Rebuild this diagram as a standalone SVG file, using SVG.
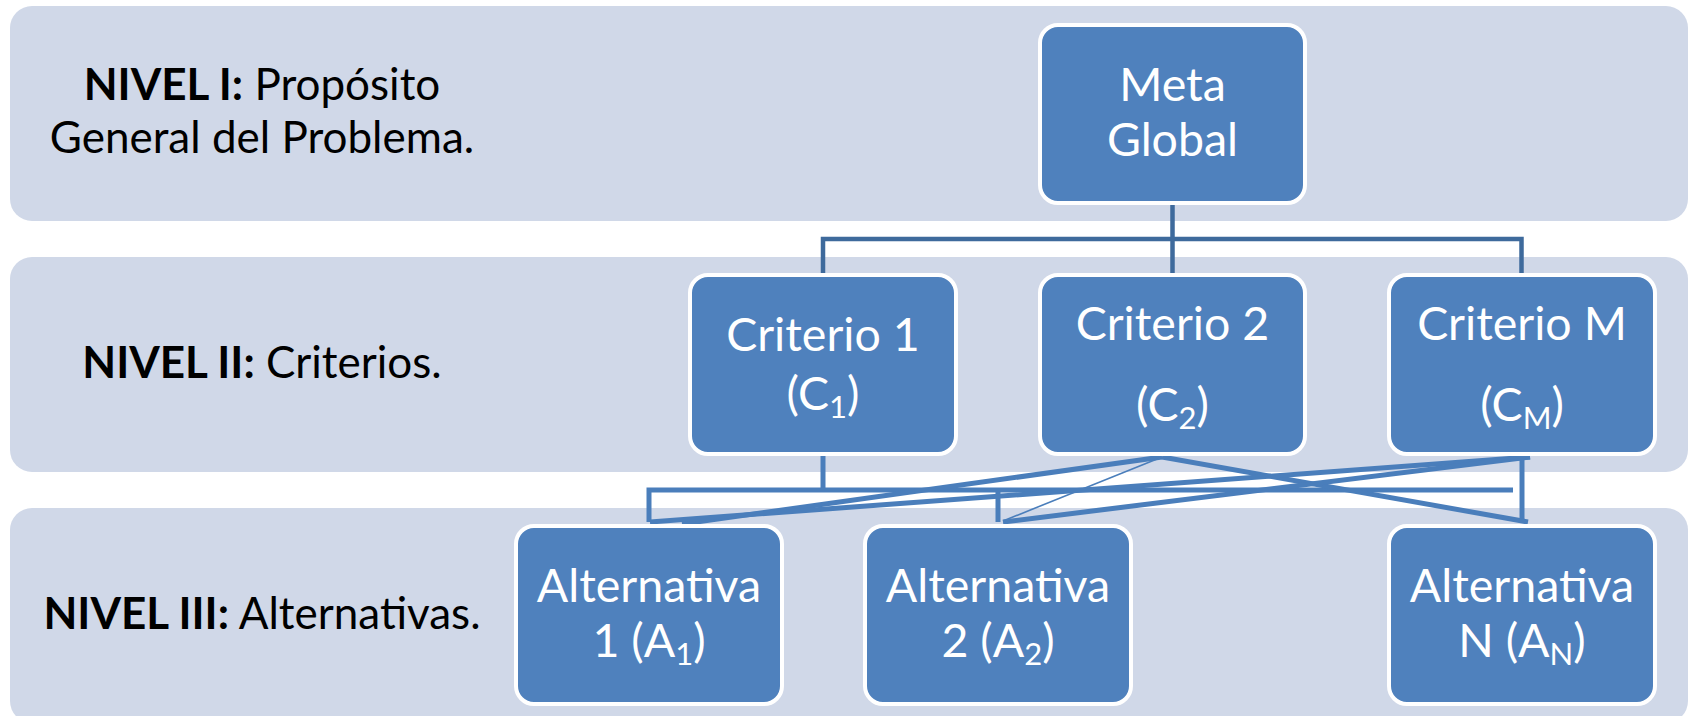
<svg xmlns="http://www.w3.org/2000/svg" width="1689" height="716" viewBox="0 0 1689 716">
<style>
.band{fill:#D0D8E8}
.node{fill:#4F81BD;stroke:#FFFFFF;stroke-width:4}
.nt{font-family:Lato,"Open Sans",sans-serif;font-size:46.5px;fill:#FFFFFF;text-anchor:middle}
.sub{font-size:31px}
.lt{font-family:Lato,"Open Sans",sans-serif;font-size:44px;fill:#000000;text-anchor:middle}
.b{font-weight:bold}
.ctop{fill:none;stroke:#3E6A9C;stroke-width:4.5}
.cb{fill:none;stroke:#4A7EBB;stroke-width:5}
.thin{fill:none;stroke:#4A7EBB;stroke-width:1.6}
</style>
<rect width="1689" height="716" fill="#FFFFFF"/>
<g id="bands">
<rect class="band" x="10" y="6" width="1678" height="215" rx="22"/>
<rect class="band" x="10" y="257" width="1678" height="215" rx="22"/>
<rect class="band" x="10" y="508" width="1678" height="215" rx="22"/>
</g>
<g id="level-labels">
<text class="lt" x="262" y="100"><tspan class="b">NIVEL I:</tspan> Propósito</text>
<text class="lt" x="262" y="153">General del Problema.</text>
<text class="lt" x="262" y="378"><tspan class="b">NIVEL II:</tspan> Criterios.</text>
<text class="lt" x="262" y="629"><tspan class="b">NIVEL III:</tspan> Alternativas.</text>
</g>
<g id="connectors">
<path class="ctop" d="M1172.5,203 V239 M823,275 V239 H1521.5 V275 M1172.5,239 V275"/>
<path class="cb" d="M823,454 V490 M649,522 V490 H1513 M998,490 V522"/>
<path class="cb" d="M1162,457 L682,524"/>
<path class="thin" d="M1162,457 L1003,521"/>
<path class="cb" d="M1162,457 L1528,522"/>
<path class="cb" d="M1530,457 L650,522"/>
<path class="cb" d="M1530,457 L1003,522"/>
<path class="cb" d="M1522,455 V522"/>
</g>
<g id="meta-global">
<rect class="node" x="1040" y="25" width="265" height="178" rx="18"/>
<text class="nt" x="1172.5" y="101">Meta</text>
<text class="nt" x="1172.5" y="156">Global</text>
</g>
<g id="criterio-1">
<rect class="node" x="690" y="275" width="266" height="179" rx="18"/>
<text class="nt" x="823" y="351">Criterio 1</text>
<text class="nt" x="823" y="410">(C<tspan class="sub" dy="8">1</tspan><tspan dy="-8">)</tspan></text>
</g>
<g id="criterio-2">
<rect class="node" x="1040" y="275" width="265" height="179" rx="18"/>
<text class="nt" x="1172.5" y="340">Criterio 2</text>
<text class="nt" x="1172.5" y="421">(C<tspan class="sub" dy="8">2</tspan><tspan dy="-8">)</tspan></text>
</g>
<g id="criterio-m">
<rect class="node" x="1389" y="275" width="266" height="179" rx="18"/>
<text class="nt" x="1522" y="340">Criterio M</text>
<text class="nt" x="1522" y="421">(C<tspan class="sub" dy="8">M</tspan><tspan dy="-8">)</tspan></text>
</g>
<g id="alternativa-1">
<rect class="node" x="516" y="526" width="266" height="178" rx="18"/>
<text class="nt" x="649" y="602">Alternativa</text>
<text class="nt" x="649" y="657">1 (A<tspan class="sub" dy="8">1</tspan><tspan dy="-8">)</tspan></text>
</g>
<g id="alternativa-2">
<rect class="node" x="865" y="526" width="266" height="178" rx="18"/>
<text class="nt" x="998" y="602">Alternativa</text>
<text class="nt" x="998" y="657">2 (A<tspan class="sub" dy="8">2</tspan><tspan dy="-8">)</tspan></text>
</g>
<g id="alternativa-n">
<rect class="node" x="1389" y="526" width="266" height="178" rx="18"/>
<text class="nt" x="1522" y="602">Alternativa</text>
<text class="nt" x="1522" y="657">N (A<tspan class="sub" dy="8">N</tspan><tspan dy="-8">)</tspan></text>
</g>
</svg>
